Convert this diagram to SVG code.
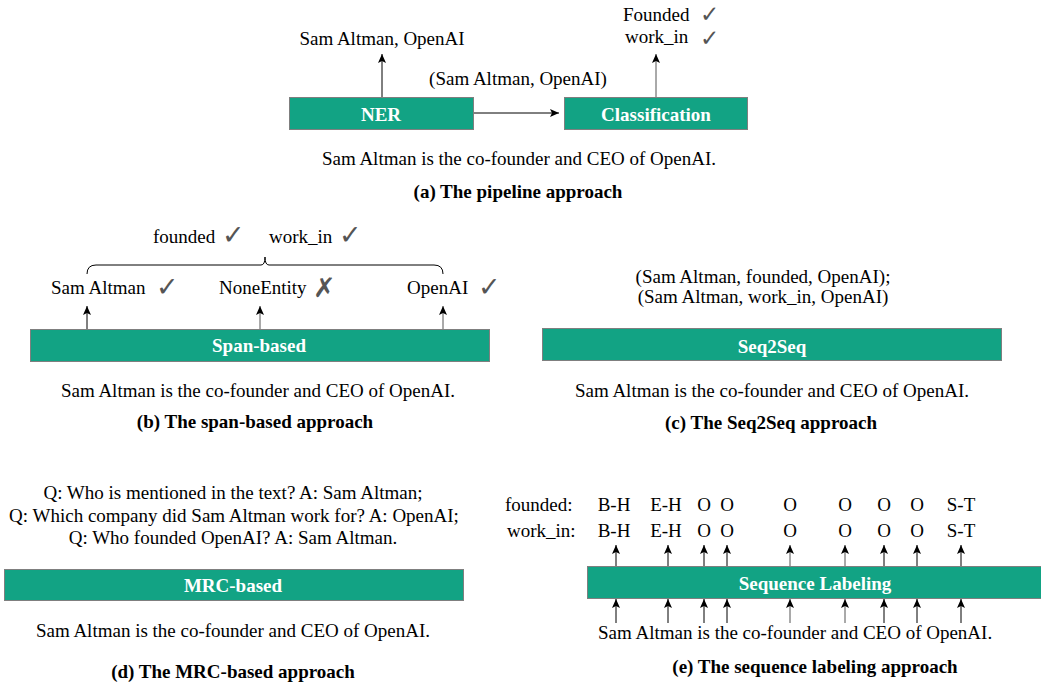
<svg xmlns="http://www.w3.org/2000/svg" width="1041" height="688" viewBox="0 0 1041 688">
<style>
  text { font-family: "Liberation Serif", "Times New Roman", serif; font-size: 19px; fill: #000; }
  .c { text-anchor: middle; }
  .b { font-weight: bold; }
  .w { fill: #fff; font-weight: bold; text-anchor: middle; }
  .box { fill: #12a384; stroke: #7f7f7f; stroke-width: 1; }
  .ln { stroke: #000; stroke-width: 1; fill: none; }
  .g { stroke: #555; }
  .chk { font-family: "DejaVu Sans", sans-serif; font-size: 27px; fill: #555; }
  .chs { font-family: "DejaVu Sans", sans-serif; font-size: 23px; fill: #555; }
</style>
<defs>
  <marker id="ah" markerUnits="userSpaceOnUse" markerWidth="10" markerHeight="10" viewBox="0 0 10 10" refX="9" refY="5" orient="auto">
    <path d="M0,1 L9,5 L0,9 L2,5 z" fill="#000"/>
  </marker>
</defs>

<rect width="1041" height="688" fill="#fff"/>

<!-- (a) pipeline -->
<g id="ner">
  <rect class="box" x="289.5" y="97.5" width="184" height="32"/>
  <text class="w" x="381" y="121">NER</text>
</g>
<g id="classification">
  <rect class="box" x="564.5" y="97.5" width="183" height="32"/>
  <text class="w" x="656" y="121">Classification</text>
</g>
<g id="a-texts">
  <text class="c" x="382" y="45">Sam Altman, OpenAI</text>
  <text class="c" x="518" y="85">(Sam Altman, OpenAI)</text>
  <text x="623" y="21">Founded</text>
  <text x="625" y="43">work_in</text>
  <text class="chs" x="700" y="22">✓</text>
  <text class="chs" x="700" y="46">✓</text>
  <text class="c" x="519" y="165">Sam Altman is the co-founder and CEO of OpenAI.</text>
  <text class="c b" x="518" y="198">(a) The pipeline approach</text>
</g>

<!-- (b) span-based -->
<g id="span-based">
  <rect class="box" x="30.5" y="329.5" width="459" height="32"/>
  <text class="w" x="259" y="352">Span-based</text>
</g>
<g id="b-texts">
  <text x="153" y="243">founded</text>
  <text class="chk" x="222" y="244">✓</text>
  <text x="269" y="243">work_in</text>
  <text class="chk" x="339" y="244">✓</text>
  <text x="51" y="294">Sam Altman</text>
  <text class="chk" x="156" y="296">✓</text>
  <text x="219" y="294">NoneEntity</text>
  <text class="chk" x="313" y="297">✗</text>
  <text x="407" y="294">OpenAI</text>
  <text class="chk" x="478" y="296">✓</text>
  <text class="c" x="258" y="397">Sam Altman is the co-founder and CEO of OpenAI.</text>
  <text class="c b" x="255" y="428">(b) The span-based approach</text>
</g>

<!-- (c) seq2seq -->
<g id="seq2seq">
  <rect class="box" x="542.5" y="328.5" width="459" height="32"/>
  <text class="w" x="772" y="353">Seq2Seq</text>
</g>
<g id="c-texts">
  <text class="c" x="763" y="283">(Sam Altman, founded, OpenAI);</text>
  <text class="c" x="763" y="303">(Sam Altman, work_in, OpenAI)</text>
  <text class="c" x="772" y="397">Sam Altman is the co-founder and CEO of OpenAI.</text>
  <text class="c b" x="771" y="429">(c) The Seq2Seq approach</text>
</g>

<!-- (d) MRC -->
<g id="mrc-based">
  <rect class="box" x="4.5" y="569.5" width="459" height="31"/>
  <text class="w" x="233" y="592">MRC-based</text>
</g>
<g id="d-texts">
  <text class="c" x="233" y="499">Q: Who is mentioned in the text? A: Sam Altman;</text>
  <text class="c" x="234" y="522">Q: Which company did Sam Altman work for? A: OpenAI;</text>
  <text class="c" x="233" y="544">Q: Who founded OpenAI? A: Sam Altman.</text>
  <text class="c" x="233" y="637">Sam Altman is the co-founder and CEO of OpenAI.</text>
  <text class="c b" x="233" y="678">(d) The MRC-based approach</text>
</g>

<!-- (e) sequence labeling -->
<g id="sequence-labeling">
  <rect class="box" x="587.5" y="566.5" width="460" height="32"/>
  <text class="w" x="815" y="590">Sequence Labeling</text>
</g>
<g id="e-texts">
  <text x="505" y="511">founded:</text>
  <text x="507" y="537">work_in:</text>
  <text class="c" x="614" y="511">B-H</text>
  <text class="c" x="666" y="511">E-H</text>
  <text class="c" x="704" y="511">O</text>
  <text class="c" x="727" y="511">O</text>
  <text class="c" x="790" y="511">O</text>
  <text class="c" x="845" y="511">O</text>
  <text class="c" x="884" y="511">O</text>
  <text class="c" x="917" y="511">O</text>
  <text class="c" x="961" y="511">S-T</text>
  <text class="c" x="614" y="537">B-H</text>
  <text class="c" x="666" y="537">E-H</text>
  <text class="c" x="704" y="537">O</text>
  <text class="c" x="727" y="537">O</text>
  <text class="c" x="790" y="537">O</text>
  <text class="c" x="845" y="537">O</text>
  <text class="c" x="884" y="537">O</text>
  <text class="c" x="917" y="537">O</text>
  <text class="c" x="961" y="537">S-T</text>
  <text x="598" y="639">Sam Altman is the co-founder and CEO of OpenAI.</text>
  <text class="c b" x="815" y="673">(e) The sequence labeling approach</text>
</g>

<!-- connectors -->
<g id="connectors">
  <line class="ln" x1="382" y1="97" x2="382" y2="54" marker-end="url(#ah)"/>
  <line class="ln g" x1="656" y1="97" x2="656" y2="54" marker-end="url(#ah)"/>
  <line class="ln" x1="474" y1="113" x2="559" y2="113" marker-end="url(#ah)"/>

  <line class="ln" x1="87" y1="329" x2="87" y2="306" marker-end="url(#ah)"/>
  <line class="ln g" x1="260" y1="329" x2="260" y2="306" marker-end="url(#ah)"/>
  <line class="ln g" x1="443" y1="329" x2="443" y2="306" marker-end="url(#ah)"/>
  <path class="ln" stroke-width="1.3" d="M87,274 Q87,265 96,265 H261 Q265,265 265,257 Q265,265 269,265 H434 Q443,265 443,274"/>

  <line class="ln" x1="616" y1="566" x2="616" y2="545" marker-end="url(#ah)"/>
  <line class="ln" x1="668" y1="566" x2="668" y2="545" marker-end="url(#ah)"/>
  <line class="ln" x1="704" y1="566" x2="704" y2="545" marker-end="url(#ah)"/>
  <line class="ln" x1="727" y1="566" x2="727" y2="545" marker-end="url(#ah)"/>
  <line class="ln g" x1="790" y1="566" x2="790" y2="545" marker-end="url(#ah)"/>
  <line class="ln g" x1="845" y1="566" x2="845" y2="545" marker-end="url(#ah)"/>
  <line class="ln" x1="884" y1="566" x2="884" y2="545" marker-end="url(#ah)"/>
  <line class="ln" x1="917" y1="566" x2="917" y2="545" marker-end="url(#ah)"/>
  <line class="ln" x1="961" y1="566" x2="961" y2="545" marker-end="url(#ah)"/>

  <line class="ln" x1="616" y1="623" x2="616" y2="599" marker-end="url(#ah)"/>
  <line class="ln" x1="668" y1="623" x2="668" y2="599" marker-end="url(#ah)"/>
  <line class="ln" x1="704" y1="623" x2="704" y2="599" marker-end="url(#ah)"/>
  <line class="ln" x1="727" y1="623" x2="727" y2="599" marker-end="url(#ah)"/>
  <line class="ln g" x1="790" y1="623" x2="790" y2="599" marker-end="url(#ah)"/>
  <line class="ln g" x1="845" y1="623" x2="845" y2="599" marker-end="url(#ah)"/>
  <line class="ln" x1="884" y1="623" x2="884" y2="599" marker-end="url(#ah)"/>
  <line class="ln" x1="917" y1="623" x2="917" y2="599" marker-end="url(#ah)"/>
  <line class="ln" x1="961" y1="623" x2="961" y2="599" marker-end="url(#ah)"/>
</g>
</svg>
